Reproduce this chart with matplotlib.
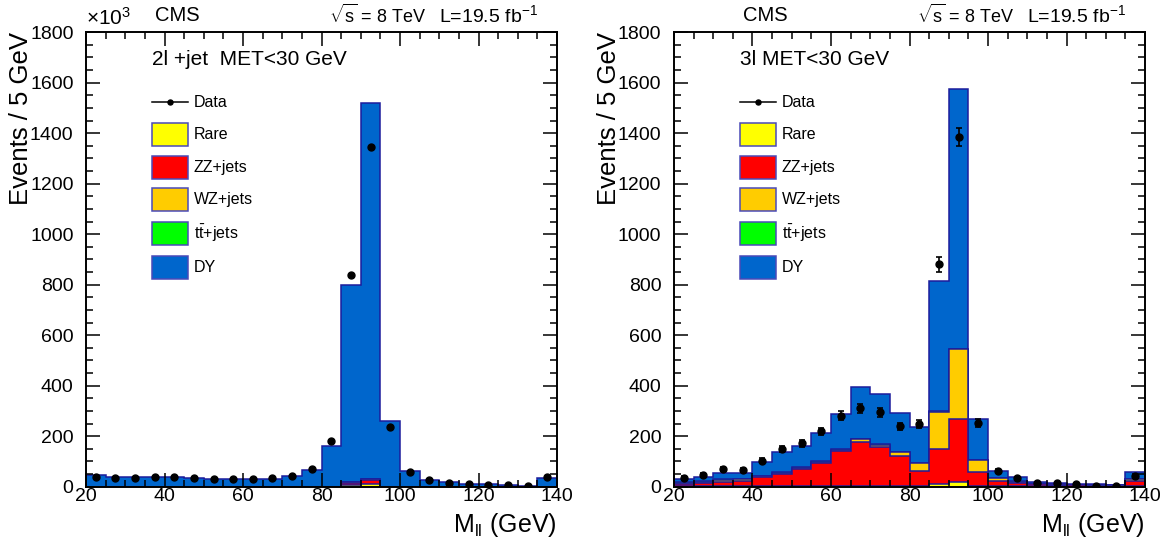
import matplotlib

matplotlib.use("Agg")

import matplotlib.pyplot as plt  # noqa: E402
import numpy as np  # noqa: E402
from matplotlib.patches import Rectangle  # noqa: E402
from matplotlib.lines import Line2D  # noqa: E402
from matplotlib.ticker import MultipleLocator  # noqa: E402

plt.rcParams["font.family"] = ["Liberation Sans", "DejaVu Sans"]
plt.rcParams["mathtext.fontset"] = "custom"
plt.rcParams["mathtext.rm"] = "Liberation Sans"
plt.rcParams["mathtext.it"] = "Liberation Sans"

# 5 GeV bins, 20-140 GeV
edges = np.arange(20, 141, 5)

# ---- left panel: 2l + jet, MET < 30 GeV (units of 10^3) -------------------
left_rare = [0, 0, 0, 0, 0, 0, 0, 0, 0, 0, 0, 0, 0, 5, 10, 0, 0, 0, 0, 0, 0, 0, 0, 0]
left_zz = [0, 0, 0, 0, 0, 0, 0, 0, 0, 0, 0, 0, 0, 10, 18, 0, 0, 0, 0, 0, 0, 0, 0, 0]
left_wz = [0, 0, 0, 0, 0, 0, 0, 0, 0, 0, 0, 0, 0, 2, 2, 0, 0, 0, 0, 0, 0, 0, 0, 0]
left_tt = [0] * 24
left_dy = [46, 37, 37, 38, 39, 36, 32, 30, 30, 32, 42, 68, 163, 783, 1490, 260,
           62, 28, 17, 12, 9, 5, 4, 34]
left_data = [39, 36, 36, 37, 37, 33, 30, 29, 30, 33, 41, 70, 179, 840, 1345, 235,
             57, 26, 16, 10, 8, 5, 4, 37]

# ---- right panel: 3l, MET < 30 GeV -----------------------------------------
right_rare = [2, 2, 2, 2, 2, 2, 2, 2, 2, 2, 2, 2, 2, 9, 17, 2, 1, 1, 1, 1, 0, 0, 0, 1]
right_zz = [8, 11, 18, 22, 35, 49, 68, 91, 138, 175, 155, 118, 59, 142, 250, 58,
            22, 12, 8, 6, 5, 4, 4, 20]
right_wz = [5, 6, 7, 6, 5, 5, 5, 5, 6, 10, 10, 16, 32, 145, 277, 44, 10, 7, 2, 2, 1, 1, 1, 8]
right_tt = [2, 2, 2, 2, 2, 2, 2, 2, 2, 2, 2, 2, 2, 2, 2, 2, 2, 1, 1, 1, 1, 1, 1, 2]
right_dy = [14, 16, 24, 21, 52, 79, 83, 111, 139, 204, 198, 155, 142, 517, 1029, 163,
            28, 16, 5, 5, 4, 3, 2, 29]
right_data = [36, 47, 71, 67, 103, 151, 172, 219, 281, 311, 295, 239, 247, 880, 1385,
              253, 64, 33, 15, 16, 12, 4, 4, 44]
right_err = [6, 7, 8, 8, 10, 12, 13, 15, 17, 18, 17, 15, 16, 30, 37, 16, 8, 6, 4, 4,
             3, 2, 2, 7]

LABELS = ["Rare", "ZZ+jets", "WZ+jets", r"$\mathrm{t\bar{t}}$+jets", "DY"]
COLOURS = ["#ffff00", "#ff0000", "#ffcc00", "#00ff00", "#0066cc"]
EDGE = "#1c1c9c"


def draw_panel(ax, layers, data, err, title, multiplier):
    cum = np.cumsum(np.array(layers, float), axis=0)
    # top layer first, like a ROOT THStack
    for i in reversed(range(len(layers))):
        ax.stairs(cum[i], edges, baseline=0, fill=True, facecolor=COLOURS[i],
                  edgecolor=EDGE, linewidth=1.1, zorder=1)
    centers = 0.5 * (edges[:-1] + edges[1:])
    if err is None:
        ax.plot(centers, data, "o", color="black", ms=5, zorder=3)
    else:
        ax.errorbar(centers, data, yerr=err, fmt="o", color="black", ms=5,
                    capsize=2, elinewidth=1.2, capthick=1.2, zorder=3)

    ax.set_xlim(20, 140)
    ax.set_ylim(0, 1800)
    ax.xaxis.set_major_locator(MultipleLocator(20))
    ax.xaxis.set_minor_locator(MultipleLocator(5))
    ax.yaxis.set_major_locator(MultipleLocator(200))
    ax.yaxis.set_minor_locator(MultipleLocator(50))
    ax.tick_params(which="both", direction="in", top=True, right=True, width=1.1,
                   labelsize=14)
    ax.tick_params(which="major", length=10)
    ax.tick_params(which="minor", length=5)
    ax.tick_params(axis="y", pad=9)
    ax.tick_params(axis="x", pad=1)
    for sp in ax.spines.values():
        sp.set_linewidth(1.4)

    ax.text(-0.137, 1.0, "Events / 5 GeV", transform=ax.transAxes, rotation=90,
            ha="center", va="top", fontsize=18.5)
    ax.text(1.0, -0.084, r"M$_{\mathrm{ll}}$ (GeV)", transform=ax.transAxes,
            ha="right", va="center", fontsize=18)
    if multiplier:
        ax.text(0.0, 1.008, r"$\times$10$^{3}$", transform=ax.transAxes,
                ha="left", va="bottom", fontsize=15)

    ax.text(0.147, 1.037, "CMS", transform=ax.transAxes, va="center", fontsize=14.5)
    ax.text(0.516, 1.037, r"$\sqrt{\mathrm{s}}$ = 8 TeV", transform=ax.transAxes,
            va="center", fontsize=13)
    ax.text(0.749, 1.037, r"L=19.5 fb$^{-1}$", transform=ax.transAxes,
            va="center", fontsize=14)
    ax.text(0.14, 0.939, title, transform=ax.transAxes, va="center", fontsize=15)

    # legend drawn by hand, ROOT style
    rows = [0.846, 0.774, 0.703, 0.631, 0.558, 0.483]
    x0, w, h, xt = 0.140, 0.0764, 0.0506, 0.229
    ax.add_line(Line2D([x0, x0 + w], [rows[0], rows[0]], color="black", lw=1.1,
                       transform=ax.transAxes))
    ax.plot([x0 + w / 2], [rows[0]], "o", color="black", ms=3.6, transform=ax.transAxes)
    ax.text(xt, rows[0], "Data", transform=ax.transAxes, va="center", fontsize=11.5)
    for k, (lab, col) in enumerate(zip(LABELS, COLOURS)):
        y = rows[k + 1]
        ax.add_patch(Rectangle((x0, y - h / 2), w, h, transform=ax.transAxes,
                               facecolor=col, edgecolor="#4a4ab8", linewidth=1.1))
        ax.text(xt, y, lab, transform=ax.transAxes, va="center", fontsize=11.5)


fig = plt.figure(figsize=(11.75, 5.52), dpi=100)
axL = fig.add_axes([0.0732, 0.1183, 0.4009, 0.8234])
axR = fig.add_axes([0.5736, 0.1183, 0.4009, 0.8234])

draw_panel(axL, [left_rare, left_zz, left_wz, left_tt, left_dy], left_data, None,
           "2l +jet  MET<30 GeV", True)
draw_panel(axR, [right_rare, right_zz, right_wz, right_tt, right_dy], right_data,
           right_err, "3l MET<30 GeV", False)

fig.savefig("out.png", dpi=100)
